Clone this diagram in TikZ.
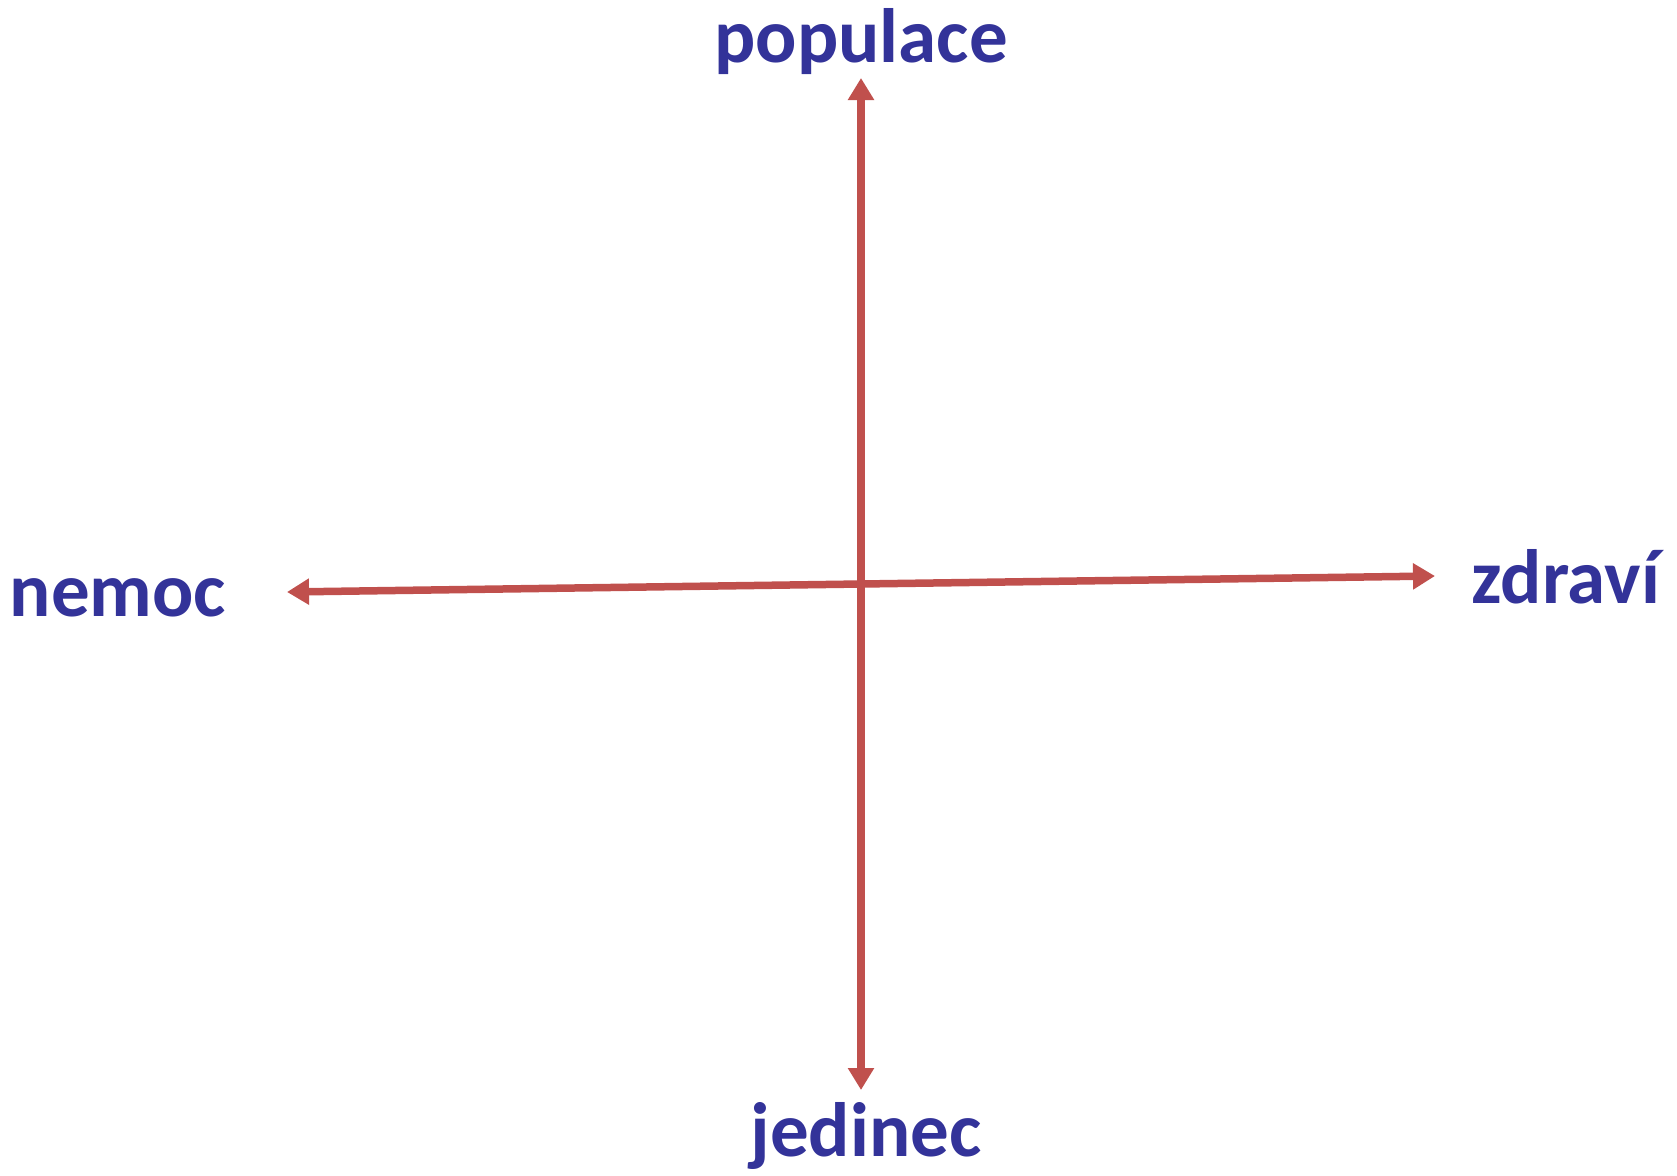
\documentclass[tikz,border=0pt]{standalone}
\usepackage{fontspec}
\setmainfont{Carlito}
\usetikzlibrary{arrows.meta}
\definecolor{axisred}{HTML}{C0504D}
\definecolor{labelblue}{HTML}{333399}
\begin{document}
\begin{tikzpicture}[x=1pt,y=-1pt,
  lbl/.style={anchor=base,inner sep=0pt,text=labelblue,font=\fontsize{77}{92}\selectfont\bfseries},
  axis/.style={draw=axisred,line width=7.5pt,{Triangle[length=22pt,width=25pt]}-{Triangle[length=22pt,width=25pt]}}]
\useasboundingbox (0,0) rectangle (1677,1175);
\node[lbl] (pop) at (861,62) {populace};
\node[lbl] (jed) at (866,1156) {jedinec};
\node[lbl] (nem) at (118,616) {nemoc};
\node[lbl] (zdr) at (1566,603) {zdraví};
\coordinate (top) at (861,78);
\coordinate (bot) at (861,1090);
\coordinate (left) at (287,592);
\coordinate (right) at (1435,576);
\draw[axis] (bot) -- (top);
\draw[axis] (left) -- (right);
\end{tikzpicture}
\end{document}
